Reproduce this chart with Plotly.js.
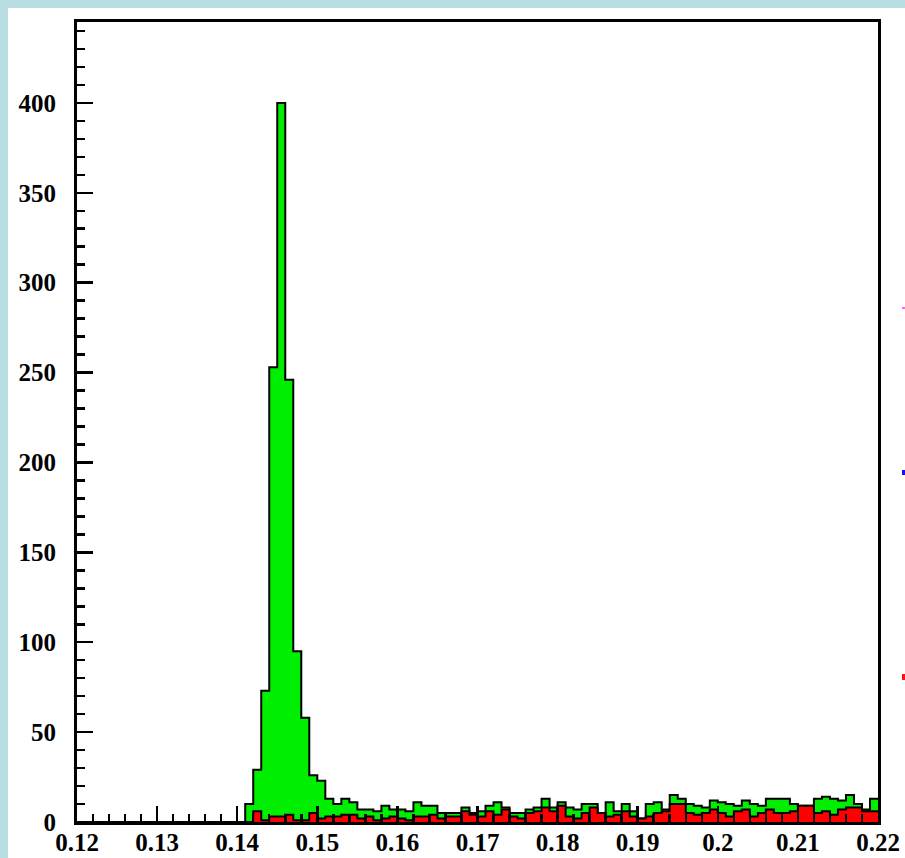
<!DOCTYPE html>
<html>
<head>
<meta charset="utf-8">
<script src="https://cdn.plot.ly/plotly-3.0.1.min.js"></script>
<style>
  html, body { margin: 0; padding: 0; background: #ffffff; }
  #chart { width: 905px; height: 858px; }
</style>
</head>
<body>
<div id="chart"></div>
<script>
// Histogram binning (100 bins from 0.12 to 0.22)
const binStart = 0.12;
const binWidth = 0.001;

// Green histogram (total) counts, bins 0.120 ... 0.219
const greenCounts = [
  0, 0, 0, 0, 0, 0, 0, 0, 0, 0,          // 0.120-0.129
  0, 0, 0, 0, 0, 0, 0, 0, 0, 0,          // 0.130-0.139
  0, 10, 29, 73, 253, 400, 246, 95, 58, 26, // 0.140-0.149
  23, 13, 10, 13, 11, 7, 7, 6, 9, 7,     // 0.150-0.159
  7, 6, 11, 9, 9, 5, 5, 5, 8, 5,         // 0.160-0.169
  6, 9, 11, 8, 5, 5, 7, 8, 13, 8,        // 0.170-0.179
  11, 8, 7, 10, 10, 5, 11, 6, 10, 6,     // 0.180-0.189
  2, 10, 11, 7, 15, 13, 10, 9, 8, 12,    // 0.190-0.199
  11, 10, 9, 12, 10, 9, 13, 13, 13, 10,  // 0.200-0.209
  9, 9, 13, 14, 13, 12, 15, 10, 7, 13    // 0.210-0.219
];

// Red histogram counts, bins 0.120 ... 0.219
const redCounts = [
  0, 0, 0, 0, 0, 0, 0, 0, 0, 0,
  0, 0, 0, 0, 0, 0, 0, 0, 0, 0,
  0, 0, 6, 1, 3, 3, 4, 1, 1, 5,
  2, 3, 3, 4, 4, 2, 3, 1, 2, 3,
  2, 1, 3, 3, 4, 2, 3, 3, 6, 4,
  3, 6, 4, 7, 3, 2, 5, 6, 8, 6,
  9, 3, 2, 5, 8, 5, 3, 4, 6, 3,
  2, 3, 5, 6, 10, 10, 5, 4, 5, 7,
  5, 3, 6, 7, 3, 5, 7, 5, 5, 6,
  9, 9, 5, 6, 4, 7, 8, 8, 6, 6
];

// Axis ranges
const xRange = [0.12, 0.22];
const yRange = [0, 445];

function stepXY(counts) {
  const xs = [], ys = [];
  for (let i = 0; i < counts.length; i++) {
    xs.push(binStart + i * binWidth);
    ys.push(counts[i]);
  }
  xs.push(binStart + counts.length * binWidth);
  ys.push(counts[counts.length - 1]);
  return {xs, ys};
}

const g = stepXY(greenCounts);
const r = stepXY(redCounts);

const traces = [
  {
    type: 'scatter', mode: 'lines', x: g.xs, y: g.ys,
    line: {shape: 'hv', color: '#000000', width: 2},
    fill: 'tozeroy', fillcolor: '#00ee00', hoverinfo: 'skip', showlegend: false
  },
  {
    type: 'scatter', mode: 'lines', x: r.xs, y: r.ys,
    line: {shape: 'hv', color: '#000000', width: 2},
    fill: 'tozeroy', fillcolor: '#ff0000', hoverinfo: 'skip', showlegend: false
  }
];

const tickFont = {family: 'Liberation Serif, Times New Roman, serif', size: 25, color: '#000000', weight: 'bold'};

const L = 77, R = 27, T = 22, B = 36, W = 905, H = 858;
const pw = W - L - R, ph = H - T - B;
function px2x(p) { return (p - L) / pw; }
function py2y(p) { return (H - B - p) / ph; }

const layout = {
  width: W, height: H,
  margin: {l: L, r: R, t: T, b: B, pad: 0},
  paper_bgcolor: '#ffffff',
  plot_bgcolor: '#ffffff',
  showlegend: false,
  xaxis: {
    range: xRange, tick0: 0.12, dtick: 0.01, tickmode: 'linear',
    ticks: 'inside', ticklen: 16, tickwidth: 2.5, tickcolor: '#000',
    minor: {dtick: 0.002, tick0: 0.12, ticks: 'inside', ticklen: 8, tickwidth: 2.5, tickcolor: '#000', showgrid: false},
    showline: true, linecolor: '#000', linewidth: 3, mirror: true,
    showgrid: false, zeroline: false, tickfont: tickFont, ticklabelstandoff: -4
  },
  yaxis: {
    range: yRange, tick0: 0, dtick: 50, tickmode: 'linear',
    ticks: 'inside', ticklen: 16, tickwidth: 2.5, tickcolor: '#000',
    minor: {dtick: 10, tick0: 0, ticks: 'inside', ticklen: 8, tickwidth: 2.5, tickcolor: '#000', showgrid: false},
    showline: true, linecolor: '#000', linewidth: 3, mirror: true,
    showgrid: false, zeroline: false, tickfont: tickFont, ticklabelstandoff: 13
  },
  shapes: [
    // light-blue frame strips (left and top)
    {type: 'rect', xref: 'paper', yref: 'paper', x0: px2x(0), x1: px2x(8), y0: py2y(H), y1: py2y(0), fillcolor: '#b7dde3', line: {width: 0}, layer: 'below'},
    {type: 'rect', xref: 'paper', yref: 'paper', x0: px2x(0), x1: px2x(W), y0: py2y(8), y1: py2y(0), fillcolor: '#b7dde3', line: {width: 0}, layer: 'below'},
    // clipped legend markers at right edge
    {type: 'rect', xref: 'paper', yref: 'paper', x0: px2x(902), x1: px2x(906), y0: py2y(309), y1: py2y(307), fillcolor: '#ff66ff', line: {width: 0}},
    {type: 'rect', xref: 'paper', yref: 'paper', x0: px2x(902), x1: px2x(906), y0: py2y(475), y1: py2y(470), fillcolor: '#1010ff', line: {width: 0}},
    {type: 'rect', xref: 'paper', yref: 'paper', x0: px2x(902), x1: px2x(906), y0: py2y(680), y1: py2y(674), fillcolor: '#ff1010', line: {width: 0}}
  ]
};

Plotly.newPlot('chart', traces, layout, {displayModeBar: false, staticPlot: true});
</script>
</body>
</html>
